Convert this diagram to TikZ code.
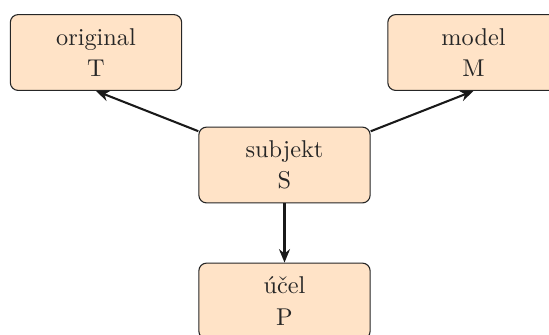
\documentclass[tikz,border=0pt]{standalone}
\usetikzlibrary{arrows.meta}
\begin{document}
\begin{tikzpicture}[x=0.4115pt,y=-0.4115pt,
  box/.style={draw=black!85,fill=orange!22,rounded corners=3.2pt,line width=0.45pt,
    minimum width=70.5pt,minimum height=31.2pt,align=center,inner sep=0pt,text=black!85},
  conn/.style={line width=0.85pt,draw=black!90,-{Stealth[length=5.5pt,width=4.5pt]}}]
\useasboundingbox (0,0) rectangle (549,334);
\node[box] (o) at (96,52.5) {original\\[0.8pt]T};
\node[box] (m) at (473.5,52.5) {model\\[0.8pt]M};
\node[box] (s) at (284.5,165) {subjekt\\[0.8pt]S};
\node[box] (p) at (284.5,301) {účel\\[0.8pt]P};
\draw[conn] (s) -- (o.south);
\draw[conn] (s) -- (m.south);
\draw[conn] (s) -- (p);
\end{tikzpicture}
\end{document}
